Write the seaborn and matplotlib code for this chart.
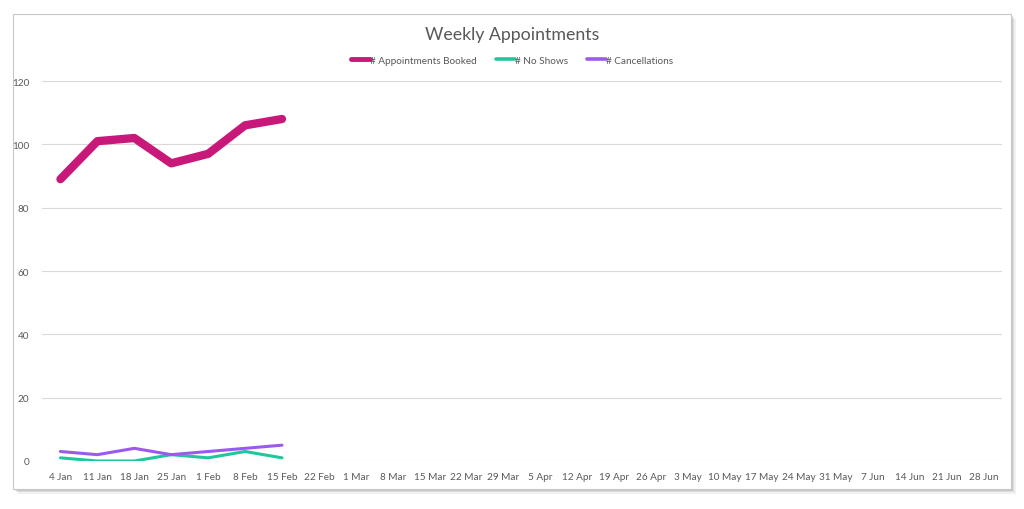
import seaborn as sns
import matplotlib.pyplot as plt
import pandas as pd
from matplotlib.patches import Rectangle

weeks = ['4 Jan', '11 Jan', '18 Jan', '25 Jan', '1 Feb', '8 Feb', '15 Feb', '22 Feb',
         '1 Mar', '8 Mar', '15 Mar', '22 Mar', '29 Mar', '5 Apr', '12 Apr', '19 Apr',
         '26 Apr', '3 May', '10 May', '17 May', '24 May', '31 May', '7 Jun', '14 Jun',
         '21 Jun', '28 Jun']
booked = [89, 101, 102, 94, 97, 106, 108]
no_shows = [1, 0, 0, 2, 1, 3, 1]
cancellations = [3, 2, 4, 2, 3, 4, 5]

sns.set_theme(style='white')
plt.rcParams['font.family'] = ['Lato', 'DejaVu Sans']

fig = plt.figure(figsize=(10.24, 5.1), dpi=100)

# chart frame with a soft shadow
for off, a in [(5, 0.06), (3, 0.08), (1.5, 0.1)]:
    fig.patches.append(Rectangle((13 / 1024 + off / 1024, 1 - 490 / 510 - off / 510),
                                 998 / 1024, 475 / 510, transform=fig.transFigure,
                                 facecolor='black', alpha=a, edgecolor='none', zorder=0))
fig.patches.append(Rectangle((13 / 1024, 1 - 490 / 510), 998 / 1024, 475 / 510,
                             transform=fig.transFigure, facecolor='white',
                             edgecolor='#c8c8c8', linewidth=0.8, zorder=1))

ax = fig.add_axes([42 / 1024, 1 - 462 / 510, 960 / 1024, 380 / 510])
ax.set_zorder(3)
ax.patch.set_alpha(0)

series = [
    ('# Appointments Booked', booked, '#c8187a', 6.0),
    ('# No Shows', no_shows, '#1fc89c', 2.2),
    ('# Cancellations', cancellations, '#9b59f0', 2.2),
]
for name, vals, col, lw in series:
    df = pd.DataFrame({'x': range(len(vals)), 'y': vals})
    sns.lineplot(data=df, x='x', y='y', ax=ax, color=col, linewidth=lw,
                 label=name, solid_capstyle='round', solid_joinstyle='round')

ax.set_xlim(-0.5, len(weeks) - 0.5)
ax.set_ylim(0, 120)
ax.set_yticks(range(0, 121, 20))
ax.set_xticks(range(len(weeks)))
ax.set_xticklabels(weeks)
ax.yaxis.grid(True, color='#d9d9d9', linewidth=0.8)
ax.set_axisbelow(True)
for s in ax.spines.values():
    s.set_visible(False)
ax.tick_params(axis='both', length=0, labelsize=7.2, colors='#595959')
ax.tick_params(axis='y', pad=9)
ax.tick_params(axis='x', pad=8)
ax.set_xlabel('')
ax.set_ylabel('')

leg = ax.legend(loc='center', bbox_to_anchor=(512 / 1024, 1 - 61 / 510),
                bbox_transform=fig.transFigure, ncol=3, frameon=False,
                handlelength=1.9, handletextpad=0.0, columnspacing=1.9,
                fontsize=7.2, labelcolor='#595959')
for h, w in zip(leg.get_lines(), [3.5, 2.6, 2.6]):
    h.set_linewidth(w)

fig.text(512 / 1024, 1 - 35 / 510, 'Weekly Appointments', ha='center', va='center',
         fontsize=12.8, color='#595959', zorder=4)

fig.savefig('out.png', dpi=100, facecolor='white')
